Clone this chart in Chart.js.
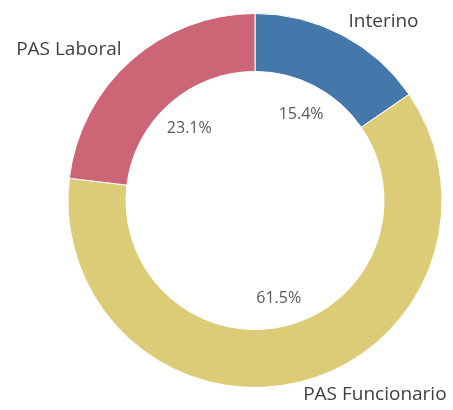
<!DOCTYPE html>
<html>
<head>
<meta charset="utf-8">
<script src="https://cdn.jsdelivr.net/npm/chart.js@4"></script>
<style>
  html, body { margin: 0; padding: 0; background: #fff; }
</style>
</head>
<body>
<canvas id="chart" width="453" height="410"></canvas>
<script>
const categories = ["Interino", "PAS Funcionario", "PAS Laboral"];
const percentages = [15.4, 61.5, 23.1];
const sliceColors = ["#4477AA", "#DDCC77", "#CC6677"];

// labels outside the ring and percent text inside the hole
const sliceLabels = {
    id: "sliceLabels",
    afterDatasetsDraw(chart) {
        const ctx = chart.ctx;
        const arcs = chart.getDatasetMeta(0).data;
        ctx.save();
        arcs.forEach((arc, i) => {
            const mid = (arc.startAngle + arc.endAngle) / 2;
            const cx = arc.x, cy = arc.y;

            // category name
            const ro = arc.outerRadius + 14;
            const lx = cx + Math.cos(mid) * ro;
            const ly = cy + Math.sin(mid) * ro - 1;
            ctx.font = "19px 'Open Sans'";
            ctx.fillStyle = "#404040";
            ctx.textBaseline = "middle";
            ctx.textAlign = lx >= cx ? "left" : "right";
            ctx.fillText(categories[i], lx, ly);

            // percentage
            const ri = arc.innerRadius - 30;
            ctx.font = "16px 'Open Sans'";
            ctx.fillStyle = "#595959";
            ctx.textAlign = "center";
            ctx.fillText(percentages[i].toFixed(1) + "%", cx + Math.cos(mid) * ri, cy + Math.sin(mid) * ri + 2);
        });
        ctx.restore();
    }
};

new Chart(document.getElementById("chart"), {
    type: "doughnut",
    data: {
        labels: categories,
        datasets: [{
            data: percentages,
            backgroundColor: sliceColors,
            borderColor: "#ffffff",
            borderWidth: 1
        }]
    },
    options: {
        responsive: false,
        animation: false,
        cutout: "69%",
        layout: { padding: { top: 13, bottom: 22, left: 67, right: 10 } },
        plugins: {
            legend: { display: false },
            tooltip: { enabled: false }
        }
    },
    plugins: [sliceLabels]
});
</script>
</body>
</html>
